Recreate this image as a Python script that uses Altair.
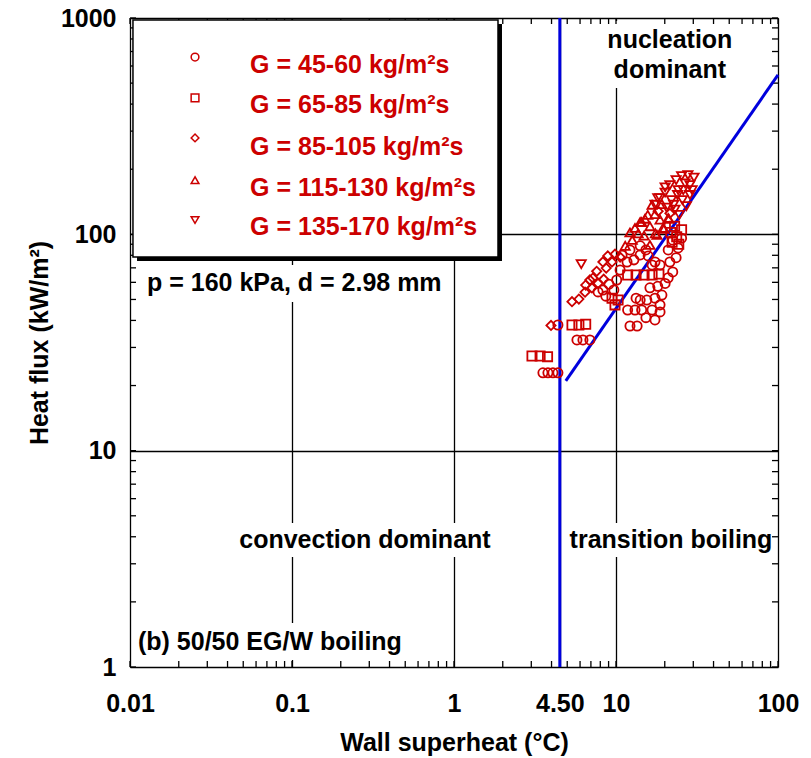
import altair as alt
import pandas as pd

RED = "#cc0000"
BLUE = "#0000dd"
FONT = "Liberation Sans"
FS = 25

# ---------------- data ----------------
series = ["G = 45-60 kg/m²s", "G = 65-85 kg/m²s", "G = 85-105 kg/m²s",
          "G = 115-130 kg/m²s", "G = 135-170 kg/m²s"]
shapes = ["circle", "square", "diamond", "triangle-up", "triangle-down"]

g1_x = [3.54, 3.80, 4.08, 4.38, 4.38, 5.74, 6.25, 6.9, 11.8, 13.1, 14.4, 12.2, 13.5,
        16.7, 18.7, 15.5, 17.4, 19.2, 16.2, 18.1, 20.1, 13.3, 21.0, 22.4, 18.7, 21.5,
        23.5, 21.0, 24.2, 22.4, 25.4, 10.9, 12.2, 14.1, 11.7, 15.8, 17.4, 10.6, 10.1,
        8.3, 9.05, 9.7, 7.75, 8.65, 15.3, 17.4, 14.1, 18.7, 14.1, 15.3, 12.9, 16.7]
g1_y = [22.9, 22.9, 22.9, 22.9, 38.1, 32.5, 32.5, 32.5, 44.7, 44.7, 44.7, 37.7, 37.7,
        44.7, 43.8, 49.7, 50.7, 52.4, 56.6, 57.5, 59.3, 50.7, 63.0, 67.0, 72.2, 74.5,
        78.0, 84.7, 86.5, 94.0, 96.0, 80.0, 84.7, 88.5, 74.5, 79.5, 74.5, 68.4, 61.5,
        55.3, 58.8, 55.3, 54.2, 51.8, 41.2, 40.2, 49.7, 47.2, 80.3, 84.7, 76.2, 72.2]

g2_x = [3.03, 3.40, 3.78, 5.35, 5.9, 6.5, 9.45, 10.3, 9.86, 11.8, 13.3, 14.9, 16.7,
        18.4, 21.8, 23.7, 25.4, 22.2, 24.4, 23.0]
g2_y = [27.4, 27.4, 27.2, 38.1, 38.1, 38.4, 50.7, 49.7, 47.2, 64.9, 64.9, 64.9, 64.9,
        65.5, 102.0, 97.5, 105.0, 92.0, 90.0, 109.0]

g3_x = [3.97, 5.35, 5.9, 6.44, 7.1, 7.75, 8.4, 6.9, 7.6, 8.7, 9.45, 8.3, 9.86, 10.6,
        18.2, 21.5, 7.2, 6.5, 8.9]
g3_y = [37.9, 48.8, 50.2, 54.0, 56.5, 59.3, 62.0, 61.5, 67.5, 69.8, 74.5, 74.5, 81.0,
        78.5, 128.0, 125.0, 62.8, 58.3, 79.5]

g4_x = [11.4, 12.6, 13.7, 14.9, 16.2, 15.1, 17.4, 18.7, 16.7, 19.2, 12.2, 14.1,
        19.8, 21.2, 17.5, 13.1, 14.4, 15.7, 16.2, 17.9, 19.5, 21.0]
g4_y = [88.5, 94.2, 101.0, 98.6, 109.0, 118.0, 124.0, 117.0, 137.0, 138.0, 102.0,
        114.0, 106.0, 118.0, 101.0, 107.0, 114.0, 123.0, 89.3, 99.4, 107.0, 119.0]

g5_x = [6.1, 18.1, 20.1, 21.5, 23.5, 25.4, 27.8, 30.3, 28.6, 26.0, 24.0, 22.0, 20.5,
        23.1, 25.7, 28.6, 24.6, 27.2, 17.4, 18.7, 20.1, 22.7, 24.2, 26.7, 29.5]
g5_y = [72.8, 147.0, 156.0, 169.0, 178.0, 186.0, 188.0, 183.0, 169.0, 160.0, 152.0,
        144.0, 133.0, 130.0, 144.0, 152.0, 123.0, 135.0, 137.0, 147.0, 165.0, 137.0,
        160.0, 172.0, 160.0]

# boundary lines (blue)
vline_x = [4.5, 4.5]
vline_y = [1, 1000]
diag_x = [4.9, 100]
diag_y = [21, 546]

# tick labels
x_labels = [0.01, 0.1, 1, 4.5, 10, 100]
y_labels = [1, 10, 100, 1000]
multipliers = [1, 2, 3, 4, 5, 6, 7, 8, 9]

# annotations
ann_text = ["nucleation", "dominant", "convection dominant", "transition boiling"]
ann_x = [21.5, 21.5, 0.282, 21.85]
ann_y = [791, 575, 3.865, 3.865]
left_text = ["(b) 50/50 EG/W boiling", "p = 160 kPa, d = 2.98 mm"]
left_x = [0.0112, 0.01273]
left_y = [1.305, 59.6]

# white boxes behind annotations (x1, x2, y1, y2)
box_x1 = [7.96, 0.04262, 4.844, 0.01074, 0.01186]
box_x2 = [58.3, 1.923, 95.8, 0.5503, 0.9447]
box_y1 = [968.5, 4.632, 4.632, 1.597, 72.2]
box_y2 = [474.7, 3.225, 3.225, 1.077, 48.7]

# legend layout
leg_sym_x = 0.0252
leg_sym_y = [660, 427, 279, 178, 116.5]
leg_txt_x = 0.0551
leg_txt_y = [606, 396, 253, 164, 108]
leg_box = dict(x1=0.01043, x2=1.869, y1=979, y2=78.6)
leg_shadow = dict(x1=0.01105, x2=1.978, y1=938, y2=75.3)

# ---------------- tables ----------------
rows = []
for name, xs, ys in zip(series, [g1_x, g2_x, g3_x, g4_x, g5_x],
                        [g1_y, g2_y, g3_y, g4_y, g5_y]):
    rows += [{"g": name, "x": a, "y": b} for a, b in zip(xs, ys)]
pts = pd.DataFrame(rows)

xt = pd.DataFrame({"v": [m * 10.0 ** e for e in range(-2, 2) for m in multipliers] + [100.0]})
yt = pd.DataFrame({"v": [m * 10.0 ** e for e in range(0, 3) for m in multipliers] + [1000.0]})

xscale = alt.Scale(type="log", domain=[0.01, 100], nice=False)
yscale = alt.Scale(type="log", domain=[1, 1000], nice=False)
shape_scale = alt.Scale(domain=series, range=shapes)

common = dict(labelFont=FONT, labelFontSize=FS, labelFontWeight="bold", labelColor="black",
              titleFont=FONT, titleFontSize=FS, titleFontWeight="bold", titleColor="black",
              grid=True, gridColor="black", gridWidth=1.3, gridOpacity=1,
              ticks=False, domain=False, labelFlush=False, labelOverlap=False)
xaxis = alt.Axis(values=x_labels, title="Wall superheat (°C)",
                 labelExpr="datum.value == 4.5 ? '4.50' : toString(datum.value)",
                 labelPadding=24, titlePadding=14, **common)
yaxis = alt.Axis(values=y_labels, title="Heat flux (kW/m²)",
                 labelExpr="toString(datum.value)",
                 labelPadding=14, titlePadding=8, **common)


def X(f):
    return alt.X(f, type="quantitative", scale=xscale, axis=xaxis)


def Y(f):
    return alt.Y(f, type="quantitative", scale=yscale, axis=yaxis)


boxes = pd.DataFrame({"x1": box_x1, "x2": box_x2, "y1": box_y1, "y2": box_y2})
box_layer = alt.Chart(boxes).mark_rect(fill="white", stroke=None).encode(
    x=X("x1"), x2="x2", y=Y("y1"), y2="y2")

tick_style = dict(color="black", strokeWidth=1.3)
t_bottom = alt.Chart(xt).mark_rule(**tick_style).encode(x=X("v"), y=alt.value(643), y2=alt.value(649))
t_top = alt.Chart(xt).mark_rule(**tick_style).encode(x=X("v"), y=alt.value(0), y2=alt.value(6))
t_left = alt.Chart(yt).mark_rule(**tick_style).encode(y=Y("v"), x=alt.value(0), x2=alt.value(6))
t_right = alt.Chart(yt).mark_rule(**tick_style).encode(y=Y("v"), x=alt.value(642), x2=alt.value(648))

blue = pd.DataFrame({"x1": [vline_x[0], diag_x[0]], "x2": [vline_x[1], diag_x[1]],
                     "y1": [vline_y[0], diag_y[0]], "y2": [vline_y[1], diag_y[1]]})
blue_layer = alt.Chart(blue).mark_rule(color=BLUE, strokeWidth=3).encode(
    x=X("x1"), x2="x2", y=Y("y1"), y2="y2")

points = alt.Chart(pts).mark_point(filled=False, size=85, strokeWidth=1.8, color=RED, opacity=1).encode(
    x=X("x"), y=Y("y"), shape=alt.Shape("g:N", scale=shape_scale, legend=None))

shadow = alt.Chart(pd.DataFrame([leg_shadow])).mark_rect(fill="black").encode(
    x=X("x1"), x2="x2", y=Y("y1"), y2="y2")
legbox = alt.Chart(pd.DataFrame([leg_box])).mark_rect(fill="white", stroke="black", strokeWidth=1.5).encode(
    x=X("x1"), x2="x2", y=Y("y1"), y2="y2")

leg = pd.DataFrame({"g": series, "sx": [leg_sym_x] * 5, "sy": leg_sym_y,
                    "tx": [leg_txt_x] * 5, "ty": leg_txt_y})
leg_sym = alt.Chart(leg).mark_point(filled=False, size=60, strokeWidth=1.5, color=RED, opacity=1).encode(
    x=X("sx"), y=Y("sy"), shape=alt.Shape("g:N", scale=shape_scale, legend=None))
leg_txt = alt.Chart(leg).mark_text(align="left", baseline="middle", font=FONT, fontSize=FS,
                                   fontWeight="bold", color=RED).encode(
    x=X("tx"), y=Y("ty"), text="g:N")

ann = pd.DataFrame({"t": ann_text, "x": ann_x, "y": ann_y})
ann_layer = alt.Chart(ann).mark_text(align="center", baseline="middle", font=FONT, fontSize=FS,
                                     fontWeight="bold", color="black").encode(
    x=X("x"), y=Y("y"), text="t:N")
ann2 = pd.DataFrame({"t": left_text, "x": left_x, "y": left_y})
ann2_layer = alt.Chart(ann2).mark_text(align="left", baseline="middle", font=FONT, fontSize=FS,
                                       fontWeight="bold", color="black").encode(
    x=X("x"), y=Y("y"), text="t:N")

chart = alt.layer(
    box_layer, t_bottom, t_top, t_left, t_right, blue_layer, points,
    shadow, legbox, leg_sym, leg_txt, ann_layer, ann2_layer
).properties(
    width=648, height=649,
    autosize=alt.AutoSizeParams(type="none"),
    padding={"left": 130, "top": 18, "right": 33, "bottom": 91},
    background="white",
).configure_view(stroke="black", strokeWidth=1.8).configure(font=FONT)

chart.save("out.html", embed_options={"renderer": "svg", "actions": False})
